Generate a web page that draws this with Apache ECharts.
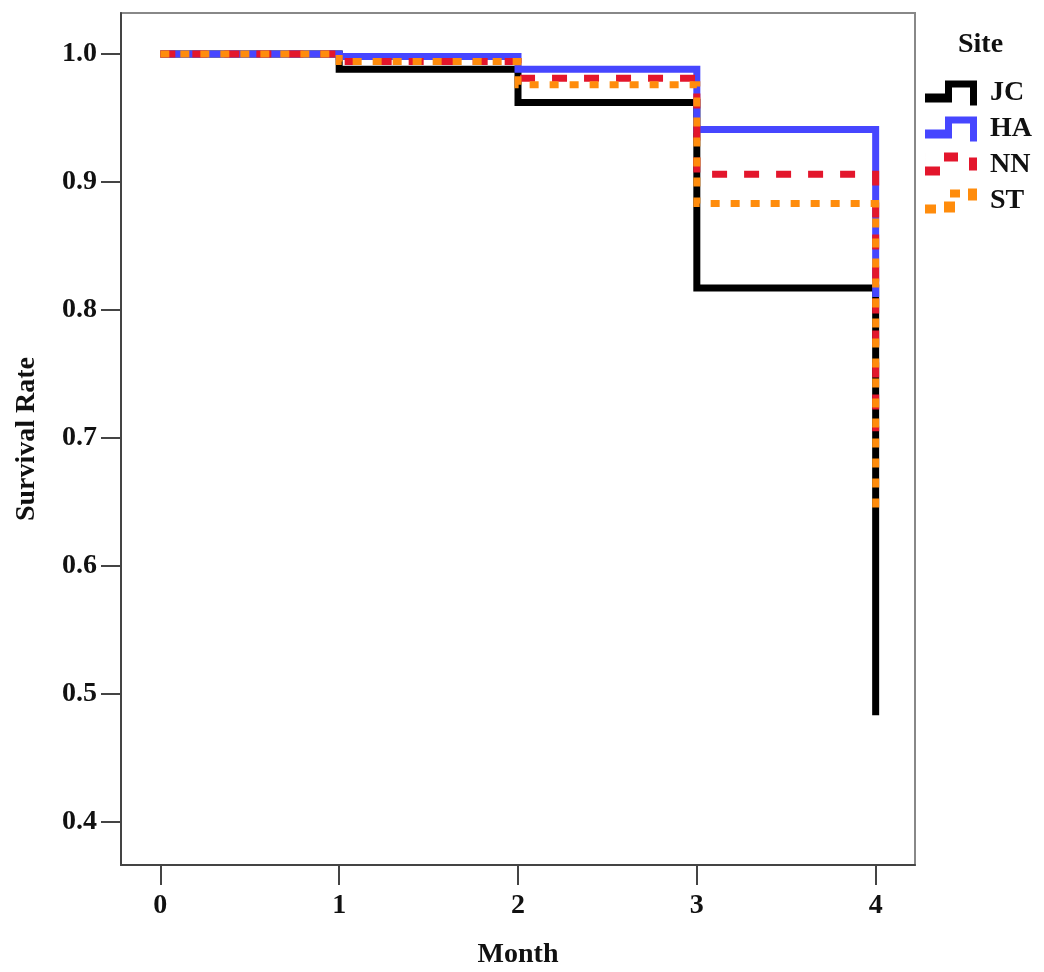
<!DOCTYPE html>
<html>
<head>
<meta charset="utf-8">
<script src="https://cdn.jsdelivr.net/npm/echarts@6/dist/echarts.min.js"></script>
<style>
html,body{margin:0;padding:0;background:#fff;}
#chart{width:1044px;height:972px;}
</style>
</head>
<body>
<div id="chart"></div>
<script>
// Data (Kaplan–Meier style step curves)
var months = [0, 1, 2, 3, 4];
var siteNames = ['JC', 'HA', 'NN', 'ST'];
var JC = [1.000, 0.988, 0.962, 0.817, 0.483];
var HA = [1.000, 0.998, 0.988, 0.941, 0.810];
var NN = [1.000, 0.994, 0.981, 0.906, 0.705];
var ST = [1.000, 0.994, 0.976, 0.883, 0.640];
var yTicks = [0.4, 0.5, 0.6, 0.7, 0.8, 0.9, 1.0];
var xTicks = [0, 1, 2, 3, 4];

var FONT = '"Liberation Serif", "DejaVu Serif", serif';

function pairs(vals) {
  return months.map(function (m, i) { return [m, vals[i]]; });
}

var colors = { JC: '#000000', HA: '#4646ff', NN: '#e3162c', ST: '#ff8c0c' };
var dashes = { JC: 'solid', HA: 'solid', NN: [15, 17], ST: [9, 11] };
var values = { JC: JC, HA: HA, NN: NN, ST: ST };
var icons = {
  JC: 'path://M0,13L20,13L20,0L52,0L52,25L45,25L45,7L27,7L27,22L0,22Z',
  HA: 'path://M0,13L20,13L20,0L52,0L52,25L45,25L45,7L27,7L27,22L0,22Z',
  NN: 'path://M0,14H15V23H0Z M19,0H33V9H19Z M44,5H52V18H44Z M0,0H0.01V25H0Z',
  ST: 'path://M0,16H11V25H0Z M19,13H30V24H19Z M25,1H35V9H25Z M43,0H52V12H43Z'
};

var series = siteNames.map(function (name) {
  return {
    name: name,
    type: 'line',
    step: 'end',
    data: pairs(values[name]),
    symbol: 'none',
    showSymbol: false,
    animation: false,
    itemStyle: { color: colors[name], borderWidth: 0 },
    lineStyle: { color: colors[name], width: 7, type: dashes[name], cap: 'butt', join: 'miter' }
  };
});

var chart = echarts.init(document.getElementById('chart'), null, { renderer: 'canvas' });
chart.setOption({
  backgroundColor: '#ffffff',
  animation: false,
  textStyle: { fontFamily: FONT },
  title: {
    text: 'Site',
    left: 953,
    top: 26,
    textStyle: { fontFamily: FONT, fontWeight: 'bold', fontSize: 28, color: '#111' }
  },
  legend: {
    orient: 'vertical',
    left: 920,
    top: 74,
    itemWidth: 52,
    itemHeight: 25,
    itemGap: 8,
    selectedMode: false,
    itemStyle: { borderWidth: 0 },
    textStyle: { fontFamily: FONT, fontWeight: 'bold', fontSize: 28, color: '#111', lineHeight: 25, padding: [0, 0, 0, 8] },
    data: siteNames.map(function (n) { return { name: n, icon: icons[n], itemStyle: { color: colors[n] } }; })
  },
  grid: {
    left: 121, top: 13, width: 794, height: 852,
    outerBoundsMode: 'none',
    containLabel: false,
    show: true, borderColor: '#888', borderWidth: 2, backgroundColor: '#fff'
  },
  xAxis: {
    type: 'value',
    min: -0.22, max: 4.22,
    name: 'Month',
    nameLocation: 'middle',
    nameGap: 76,
    nameTextStyle: { fontFamily: FONT, fontWeight: 'bold', fontSize: 28, color: '#111' },
    axisLine: { show: true, onZero: false, lineStyle: { color: '#444', width: 2 } },
    axisTick: { show: true, inside: false, length: 20, customValues: xTicks, lineStyle: { color: '#444', width: 2 } },
    axisLabel: { customValues: xTicks, margin: 27, fontFamily: FONT, fontWeight: 'bold', fontSize: 28, color: '#111',
      formatter: function (v) { return String(v); } },
    splitLine: { show: false }
  },
  yAxis: {
    type: 'value',
    min: 0.366, max: 1.032,
    name: 'Survival Rate',
    nameLocation: 'middle',
    nameGap: 80,
    nameTextStyle: { fontFamily: FONT, fontWeight: 'bold', fontSize: 28, color: '#111' },
    axisLine: { show: true, onZero: false, lineStyle: { color: '#444', width: 2 } },
    axisTick: { show: true, inside: false, length: 20, customValues: yTicks, lineStyle: { color: '#444', width: 2 } },
    axisLabel: { customValues: yTicks, margin: 24, fontFamily: FONT, fontWeight: 'bold', fontSize: 28, color: '#111',
      formatter: function (v) { return v.toFixed(1); } },
    splitLine: { show: false }
  },
  series: series
});
</script>
</body>
</html>
